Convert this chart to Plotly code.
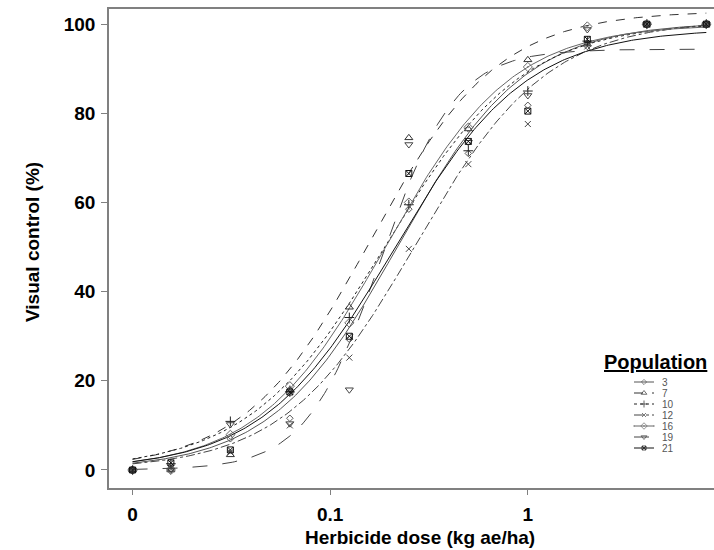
import numpy as np
import plotly.graph_objects as go

# ---------------- data ----------------
doses = [0, 0.015625, 0.03125, 0.0625, 0.125, 0.25, 0.5, 1, 2, 4, 8]
populations = ["3", "7", "10", "12", "16", "19", "21"]

control_3 = [0, 0.3, 7.0, 11.6, 29.3, 58.5, 71.0, 81.8, 95.0, 100, 100]
control_7 = [0, 0.0, 3.4, 18.0, 36.5, 74.5, 76.5, 92.0, 95.5, 100, 100]
control_10 = [0, 1.4, 10.9, 17.5, 34.2, 59.5, 71.6, 85.0, 96.2, 100, 100]
control_12 = [0, 0.3, 4.0, 10.0, 25.2, 49.6, 68.6, 77.6, 95.0, 100, 100]
control_16 = [0, 0.0, 7.9, 18.8, 33.0, 60.0, 76.8, 90.4, 99.5, 100, 100]
control_19 = [0, 0.0, 10.2, 10.4, 18.0, 73.0, 73.5, 84.0, 98.8, 100, 100]
control_21 = [0, 1.6, 4.5, 17.5, 30.0, 66.5, 73.7, 80.5, 96.6, 100, 100]

# fitted log-logistic curve parameters
ed50 = [0.22, 0.16, 0.19, 0.27, 0.19, 0.18, 0.21]
slope = [1.35, 1.35, 1.25, 1.3, 1.35, 2.3, 1.3]
upper = [100.5, 103.0, 100.5, 101.0, 100.0, 94.4, 99.0]

x_tick_vals = [0, 0.1, 1]
x_tick_text = ["0", "0.1", "1"]
y_tick_vals = [0, 20, 40, 60, 80, 100]

series = [control_3, control_7, control_10, control_12, control_16, control_19, control_21]

# ---------------- styling ----------------
FONT = "Liberation Sans, Arial, sans-serif"
ZERO_POS = 0.01  # position on the log axis where dose 0 is drawn
styles = [
    dict(dash="solid", symbol="diamond-open", size=5, color="#555555"),
    dict(dash="dash", symbol="triangle-up-open", size=7, color="#333333"),
    dict(dash="dot", symbol="cross-thin-open", size=7, color="#222222"),
    dict(dash="dashdot", symbol="x-thin-open", size=6, color="#444444"),
    dict(dash="solid", symbol="diamond-open-dot", size=7, color="#666666"),
    dict(dash="longdash", symbol="triangle-down-open", size=7, color="#444444"),
    dict(dash="solid", symbol="square-x-open", size=6, color="#111111"),
]

def xpos(d):
    return ZERO_POS if d == 0 else d

fig = go.Figure()
xc = np.logspace(np.log10(ZERO_POS), np.log10(8), 300)
for i, name in enumerate(populations):
    st = styles[i]
    yc = upper[i] / (1 + (ed50[i] / xc) ** slope[i])
    fig.add_trace(go.Scatter(x=xc, y=yc, mode="lines", showlegend=False,
                             line=dict(color=st["color"], width=1, dash=st["dash"])))
for i, name in enumerate(populations):
    st = styles[i]
    fig.add_trace(go.Scatter(x=[xpos(d) for d in doses], y=series[i], mode="markers",
                             showlegend=False, cliponaxis=False,
                             marker=dict(symbol=st["symbol"], size=st["size"],
                                         color=st["color"], line=dict(width=1, color=st["color"]))))

# ---------------- manual legend (overlay axes in pixel-like units) ----------------
W, H = 714, 550
ml, mr, mt, mb = 109, 0, 9, 62
pw, ph = W - ml - mr, H - mt - mb

def px(xp):
    return (xp - ml) / pw

def py(yp):
    return (H - mb - yp) / ph

row0, gap = 382, 11.0
for i, name in enumerate(populations):
    st = styles[i]
    yy = py(row0 + i * gap)
    fig.add_trace(go.Scatter(x=[px(634), px(644), px(654)], y=[yy, yy, yy],
                             mode="lines+markers", xaxis="x2", yaxis="y2", showlegend=False,
                             line=dict(color=st["color"], width=1, dash=st["dash"]),
                             marker=dict(symbol=st["symbol"], size=[0, max(st["size"] - 2, 4), 0],
                                         color=st["color"], line=dict(width=1, color=st["color"]))))
    fig.add_annotation(x=px(660), y=yy, xref="paper", yref="paper", text=name,
                       showarrow=False, xanchor="left", yanchor="middle",
                       font=dict(family=FONT, size=10, color="#555555"))

fig.add_annotation(x=px(655), y=py(362), xref="paper", yref="paper",
                   text="<b><u>Population</u></b>", showarrow=False,
                   xanchor="center", yanchor="middle",
                   font=dict(family=FONT, size=20, color="black"))

# axis titles
fig.add_annotation(x=px(32), y=py(242), xref="paper", yref="paper",
                   text="<b>Visual control (%)</b>", showarrow=False, textangle=-90,
                   xanchor="center", yanchor="middle",
                   font=dict(family=FONT, size=19, color="black"))
fig.add_annotation(x=px(420), y=py(537), xref="paper", yref="paper",
                   text="<b>Herbicide dose (kg ae/ha)</b>", showarrow=False,
                   xanchor="center", yanchor="middle",
                   font=dict(family=FONT, size=19, color="black"))

axis_gray = "#808080"
fig.update_layout(
    width=W, height=H,
    margin=dict(l=ml, r=mr, t=mt, b=mb),
    paper_bgcolor="white", plot_bgcolor="white",
    showlegend=False,
    xaxis=dict(type="log", range=[np.log10(0.0076), np.log10(8.75)],
               tickvals=[xpos(v) for v in x_tick_vals], ticktext=x_tick_text,
               ticks="outside", ticklen=5, tickcolor=axis_gray, tickwidth=1,
               showline=True, linecolor=axis_gray, linewidth=1.5, mirror=True,
               showgrid=False, zeroline=False, ticklabelstandoff=3,
               tickfont=dict(family=FONT, size=19, color="black", weight="bold")),
    yaxis=dict(range=[-4.04, 103.4], tickvals=y_tick_vals,
               ticks="outside", ticklen=6, tickcolor=axis_gray, tickwidth=1,
               showline=True, linecolor=axis_gray, linewidth=1.5,
               showgrid=False, zeroline=False, ticklabelstandoff=2,
               tickfont=dict(family=FONT, size=19, color="black", weight="bold")),
    xaxis2=dict(overlaying="x", range=[0, 1], visible=False),
    yaxis2=dict(overlaying="y", range=[0, 1], visible=False),
)

fig.write_html("out.html", config={"displayModeBar": False},
               post_script="document.body.style.margin='0px';document.body.style.overflow='hidden';")
